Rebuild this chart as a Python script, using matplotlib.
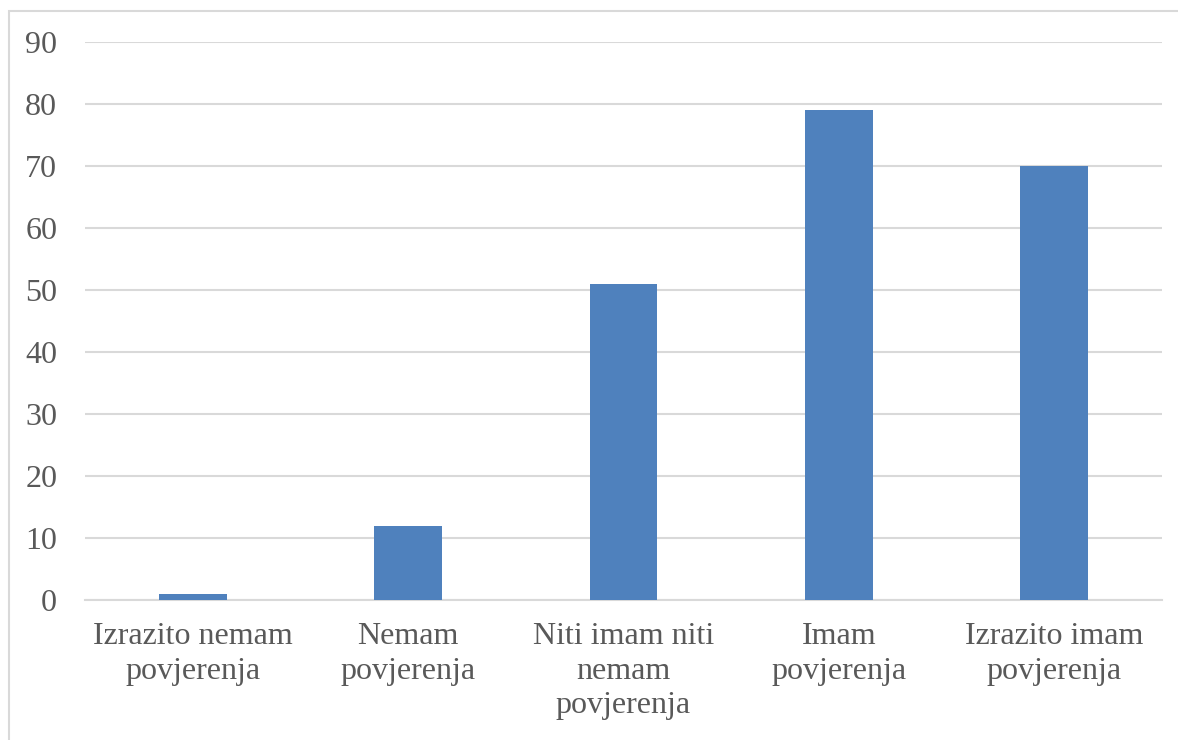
import matplotlib.pyplot as plt
from matplotlib.patches import Rectangle

categories = ['Izrazito nemam\npovjerenja', 'Nemam\npovjerenja', 'Niti imam niti\nnemam\npovjerenja',
              'Imam\npovjerenja', 'Izrazito imam\npovjerenja']
values = [1, 12, 51, 79, 70]
yticks = [0, 10, 20, 30, 40, 50, 60, 70, 80, 90]

plt.rcParams['font.family'] = ['Liberation Serif', 'DejaVu Serif']
txt = '#595959'
grid = '#d9d9d9'

fig = plt.figure(figsize=(11.78, 7.4), dpi=100)
ax = fig.add_axes([85/1178, 140/740, (1162-85)/1178, (600-42)/740])

x = list(range(len(categories)))
ax.bar(x, values, width=0.315, color='#4f81bd', zorder=3)

ax.set_xlim(-0.5, len(categories)-0.5)
ax.set_ylim(0, 90)
ax.set_yticks(yticks)
ax.set_xticks(x)
ax.set_xticklabels(categories, fontsize=23, color=txt, linespacing=1.25)
ax.tick_params(axis='y', labelsize=23, labelcolor=txt, length=0, pad=20)
ax.tick_params(axis='x', length=0, pad=16)
ax.yaxis.grid(True, color=grid, linewidth=1.5, zorder=0)
for s in ['top', 'right', 'left']:
    ax.spines[s].set_visible(False)
ax.spines['bottom'].set_color(grid)
ax.spines['bottom'].set_linewidth(1.5)

fig.patches.append(Rectangle((9/1178, -0.1), 1.2, (740-11)/740 + 0.1, transform=fig.transFigure,
                             fill=False, edgecolor='#d9d9d9', linewidth=1.5))

fig.savefig('out.png', dpi=100)
